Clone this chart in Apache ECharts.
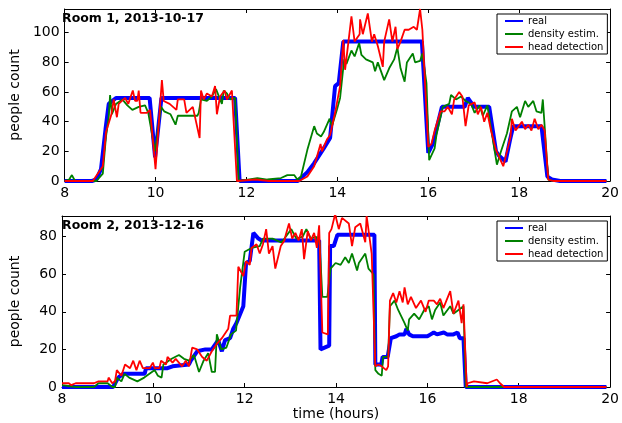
<!DOCTYPE html>
<html>
<head>
<meta charset="utf-8">
<script src="https://cdn.jsdelivr.net/npm/echarts@6/dist/echarts.min.js"></script>
<style>
  html, body { margin: 0; padding: 0; background: #fff; }
  #main { width: 622px; height: 423px; }
</style>
</head>
<body>
<div id="main"></div>
<script>
// [hour, people]
var r1Real = [[8,0],[8.6,0],[8.7,1],[8.8,8],[8.9,35],[8.97,52],[9.13,56],[9.87,56],[9.99,16],[10.13,56],[11.75,56],[11.85,0],[13.13,0],[13.34,6],[13.49,12],[13.7,22],[13.84,29],[13.95,64],[14.03,66],[14.13,94],[15.86,94],[16.0,19],[16.1,25],[16.3,50],[16.8,50],[16.87,56],[16.94,53],[17.0,50],[17.34,50],[17.49,20],[17.56,17],[17.7,13],[17.8,28],[17.87,37],[18.49,37],[18.62,3],[18.72,1],[18.9,0],[19.92,0]];
var r1Dens = [[8,0],[8.1,1],[8.16,4],[8.23,0],[8.7,0],[8.84,5],[8.91,30],[8.97,43],[9.0,58],[9.04,45],[9.13,52],[9.27,55],[9.38,51],[9.49,48],[9.63,50],[9.77,51],[9.84,46],[9.99,20],[10.12,50],[10.19,47],[10.33,45],[10.44,38],[10.49,44],[10.92,44],[10.95,46],[11.0,55],[11.13,54],[11.24,57],[11.33,62],[11.46,52],[11.5,61],[11.57,59],[11.64,55],[11.75,56],[11.83,0],[12.03,1],[12.24,2],[12.46,1],[12.76,2],[12.9,4],[13.05,4],[13.12,1],[13.2,3],[13.34,21],[13.49,37],[13.55,32],[13.64,30],[13.7,33],[13.83,42],[13.88,37],[13.99,48],[14.06,56],[14.15,82],[14.2,79],[14.31,88],[14.38,84],[14.48,93],[14.53,85],[14.63,82],[14.78,80],[14.83,74],[14.89,80],[15.03,68],[15.14,76],[15.25,82],[15.32,90],[15.39,76],[15.48,67],[15.53,80],[15.66,86],[15.71,80],[15.82,81],[15.87,86],[15.96,66],[16.02,14],[16.14,22],[16.18,31],[16.32,50],[16.46,52],[16.5,58],[16.61,55],[16.72,57],[16.82,54],[16.94,52],[17.02,46],[17.13,51],[17.2,44],[17.3,51],[17.41,30],[17.51,11],[17.59,19],[17.73,32],[17.84,47],[17.95,50],[18.02,43],[18.13,54],[18.2,50],[18.31,54],[18.38,47],[18.49,46],[18.52,55],[18.64,1],[18.75,0],[19.92,0]];
var r1Head = [[8,0],[8.62,0],[8.84,10],[8.91,33],[8.97,39],[9.03,45],[9.08,55],[9.15,43],[9.19,52],[9.33,56],[9.4,52],[9.5,61],[9.55,54],[9.6,54],[9.63,61],[9.67,46],[9.81,46],[9.88,48],[10.0,8],[10.14,68],[10.18,54],[10.31,52],[10.46,48],[10.49,55],[10.63,55],[10.68,46],[10.82,50],[10.97,29],[11.0,61],[11.06,55],[11.13,59],[11.24,57],[11.31,64],[11.35,45],[11.42,57],[11.52,61],[11.57,55],[11.68,61],[11.79,0],[12.2,1],[12.5,0],[13.16,0],[13.34,3],[13.49,10],[13.63,25],[13.66,20],[13.77,28],[13.84,31],[13.95,46],[14.06,64],[14.13,95],[14.17,75],[14.24,93],[14.31,111],[14.38,94],[14.49,99],[14.5,109],[14.56,99],[14.67,113],[14.76,94],[14.81,99],[14.89,91],[15.0,77],[15.03,94],[15.14,109],[15.21,94],[15.28,104],[15.32,89],[15.39,94],[15.48,102],[15.57,102],[15.68,104],[15.75,102],[15.82,116],[15.87,102],[16.0,23],[16.07,25],[16.14,34],[16.27,47],[16.36,47],[16.43,50],[16.52,45],[16.57,55],[16.68,60],[16.75,57],[16.82,37],[16.89,51],[17.02,53],[17.09,45],[17.16,50],[17.23,40],[17.3,46],[17.38,34],[17.49,21],[17.59,14],[17.65,10],[17.74,21],[17.81,30],[17.84,42],[17.92,34],[17.99,37],[18.06,40],[18.13,35],[18.2,38],[18.27,34],[18.34,42],[18.42,35],[18.49,38],[18.56,34],[18.64,1],[18.75,0],[19.92,0]];

var r2Real = [[8,0],[9.12,0],[9.23,5],[9.34,7],[9.81,7],[9.84,10],[10.31,10],[10.42,11],[10.78,12],[10.82,14],[10.96,19],[11.14,20],[11.28,20],[11.42,25],[11.46,25],[11.5,19],[11.57,25],[11.68,26],[11.75,31],[11.82,34],[11.97,43],[12.03,66],[12.11,67],[12.19,82],[12.3,79],[12.37,78],[13.63,78],[13.66,20],[13.85,22],[13.87,75],[13.95,75],[14.03,81],[14.84,81],[14.86,12],[14.99,12],[15.02,16],[15.13,16],[15.2,26],[15.32,27],[15.39,28],[15.5,28],[15.54,31],[15.6,28],[15.68,27],[16.0,27],[16.07,28],[16.14,29],[16.21,28],[16.36,29],[16.43,28],[16.57,28],[16.66,29],[16.71,26],[16.79,26],[16.84,0],[19.92,0]];
var r2Dens = [[8,1],[8.3,0],[8.7,0],[8.8,2],[9.0,2],[9.1,0],[9.16,0],[9.2,5],[9.3,3],[9.37,7],[9.47,5],[9.65,3],[9.8,5],[10.03,9],[10.1,6],[10.18,5],[10.22,12],[10.4,15],[10.56,17],[10.67,15],[10.78,14],[10.89,17],[11.0,8],[11.1,14],[11.2,18],[11.28,8],[11.35,8],[11.39,28],[11.49,20],[11.6,21],[11.7,28],[11.81,30],[11.9,53],[12.0,72],[12.15,74],[12.33,75],[12.4,79],[12.61,79],[12.8,77],[12.87,79],[13.02,84],[13.13,79],[13.27,80],[13.35,84],[13.45,79],[13.56,80],[13.64,77],[13.7,48],[13.81,48],[13.88,63],[13.99,66],[14.1,65],[14.2,69],[14.28,66],[14.35,71],[14.46,62],[14.5,66],[14.64,71],[14.71,63],[14.82,60],[14.86,9],[14.93,7],[15.0,6],[15.03,16],[15.14,16],[15.18,43],[15.28,46],[15.36,41],[15.5,34],[15.57,30],[15.6,36],[15.71,39],[15.82,36],[15.93,41],[16.03,43],[16.1,36],[16.17,41],[16.28,45],[16.35,38],[16.5,43],[16.57,39],[16.68,41],[16.79,43],[16.84,0],[19.92,0]];
var r2Head = [[8,2],[8.15,2],[8.2,1],[8.3,2],[8.7,2],[8.8,3],[9.0,3],[9.02,5],[9.1,2],[9.16,3],[9.2,9],[9.3,6],[9.38,12],[9.49,10],[9.56,14],[9.63,9],[9.7,14],[9.77,10],[9.92,10],[9.99,13],[10.03,10],[10.13,10],[10.17,14],[10.28,12],[10.31,16],[10.42,13],[10.49,15],[10.56,13],[10.63,11],[10.71,14],[10.78,11],[10.85,21],[10.96,20],[11.07,16],[11.17,14],[11.28,19],[11.39,23],[11.5,26],[11.64,31],[11.68,38],[11.82,38],[11.86,64],[11.97,59],[12.03,67],[12.11,65],[12.15,74],[12.26,76],[12.33,71],[12.4,76],[12.47,84],[12.53,71],[12.61,75],[12.67,63],[12.79,75],[12.87,78],[12.9,81],[12.97,87],[13.04,79],[13.11,82],[13.18,78],[13.25,84],[13.3,68],[13.38,83],[13.45,78],[13.52,82],[13.58,74],[13.63,86],[13.7,29],[13.82,28],[13.85,82],[13.9,84],[13.98,92],[14.06,84],[14.13,90],[14.28,87],[14.35,75],[14.42,85],[14.53,87],[14.64,77],[14.67,91],[14.78,71],[14.86,11],[14.93,12],[15.0,11],[15.03,10],[15.1,9],[15.14,11],[15.18,46],[15.25,50],[15.32,45],[15.39,51],[15.46,45],[15.5,53],[15.57,44],[15.64,48],[15.75,42],[15.86,46],[15.96,40],[16.03,46],[16.14,46],[16.21,44],[16.28,47],[16.35,42],[16.5,51],[16.57,39],[16.68,46],[16.75,34],[16.79,44],[16.86,0],[16.88,2],[17.02,3],[17.31,2],[17.52,4],[17.59,2],[17.68,0],[19.92,0]];

var xTicks = [8, 20, 2];        // min, max, step
var yMax = [116, 91];
var names = ['real', 'density estim.', 'head detection'];
var titles = ['Room 1, 2013-10-17', 'Room 2, 2013-12-16'];

var FONT = 'DejaVu Sans';
var myChart = echarts.init(document.getElementById('main'));

function xAx(g, pos, withLabel) {
    return {
        type: 'value', gridIndex: g, position: pos,
        min: xTicks[0], max: xTicks[1], interval: xTicks[2],
        axisLine: { show: true, onZero: false, lineStyle: { color: '#000', width: 1 } },
        axisTick: { show: true, inside: true, length: 4, lineStyle: { color: '#000' } },
        axisLabel: { show: withLabel, margin: 5, color: '#000', fontSize: 14, fontFamily: FONT },
        splitLine: { show: false }
    };
}
function yAx(g, pos, withLabel) {
    return {
        type: 'value', gridIndex: g, position: pos,
        min: 0, max: yMax[g], interval: 20,
        axisLine: { show: true, lineStyle: { color: '#000', width: 1 } },
        axisTick: { show: true, inside: true, length: 4, lineStyle: { color: '#000' } },
        axisLabel: {
            show: withLabel, margin: 5, color: '#000', fontSize: 14, fontFamily: FONT,
            formatter: function (v) { return v % 20 === 0 ? v : ''; }
        },
        splitLine: { show: false },
        name: withLabel ? 'people count' : '',
        nameLocation: 'middle', nameGap: 40,
        nameTextStyle: { color: '#000', fontSize: 14, fontFamily: FONT }
    };
}

var xAxes = [xAx(0, 'bottom', true), xAx(1, 'bottom', true), xAx(0, 'top', false), xAx(1, 'top', false)];
xAxes[1].name = 'time (hours)';
xAxes[1].nameLocation = 'middle';
xAxes[1].nameGap = 20;
xAxes[1].nameTextStyle = { color: '#000', fontSize: 14, fontFamily: FONT };
var yAxes = [yAx(0, 'left', true), yAx(1, 'left', true), yAx(0, 'right', false), yAx(1, 'right', false)];

function line(name, data, g, color, width, z) {
    return {
        name: name, type: 'line', data: data,
        xAxisIndex: g, yAxisIndex: g,
        symbol: 'none', showSymbol: false, clip: true, z: z,
        lineStyle: { color: color, width: width },
        itemStyle: { color: color }
    };
}

function legendAt(top) {
    return {
        orient: 'vertical', left: 497, top: top,
        padding: [2, 4, 2, 7], itemGap: 3, itemWidth: 18, itemHeight: 10,
        borderColor: '#000', borderWidth: 1, backgroundColor: '#fff',
        itemStyle: { opacity: 0 },
        textStyle: { color: '#000', fontSize: 10, fontFamily: FONT },
        data: names
    };
}

var titleStyle = { fontSize: 12.5, fontWeight: 'bold', color: '#000', fontFamily: FONT };

var option = {
    animation: false,
    backgroundColor: '#fff',
    title: [
        { text: titles[0], left: 62, top: 12, padding: 0, textStyle: titleStyle },
        { text: titles[1], left: 62, top: 219, padding: 0, textStyle: titleStyle }
    ],
    legend: [legendAt(14), legendAt(221)],
    grid: [
        { left: 58, top: 9, width: 555, height: 172 },
        { left: 58, top: 216, width: 555, height: 171 }
    ],
    xAxis: xAxes,
    yAxis: yAxes,
    series: [
        line(names[0], r1Real, 0, '#0000ff', 4, 2),
        line(names[1], r1Dens, 0, '#008000', 1.8, 3),
        line(names[2], r1Head, 0, '#ff0000', 1.8, 4),
        line(names[0], r2Real, 1, '#0000ff', 4, 2),
        line(names[1], r2Dens, 1, '#008000', 1.8, 3),
        line(names[2], r2Head, 1, '#ff0000', 1.8, 4)
    ]
};

myChart.setOption(option);
</script>
</body>
</html>
